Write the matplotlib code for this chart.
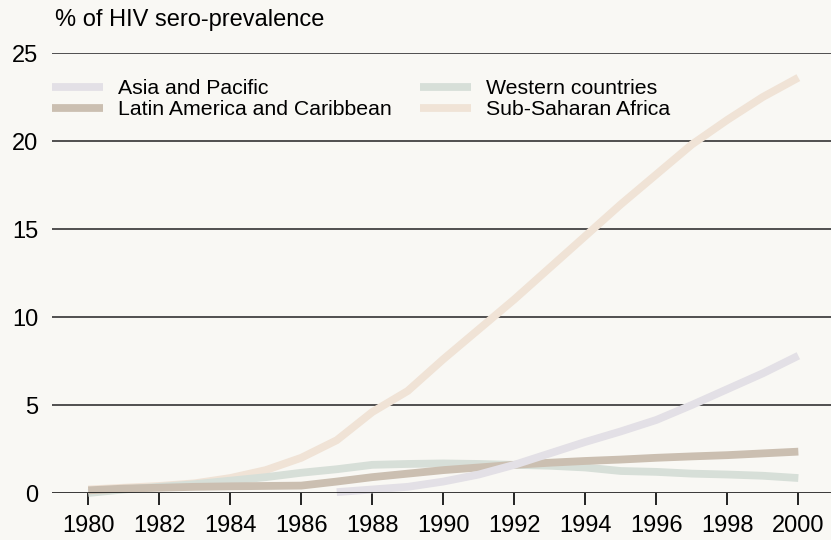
import matplotlib
matplotlib.use("Agg")
import matplotlib.pyplot as plt

plt.rcParams['font.family'] = ['Liberation Sans', 'DejaVu Sans']

years = list(range(1980, 2001))
asia_years = list(range(1987, 2001))
asia = [0.05, 0.2, 0.35, 0.65, 1.05, 1.6, 2.25, 2.9, 3.5, 4.15, 5.0, 5.9, 6.8, 7.8]
latin = [0.15, 0.25, 0.3, 0.35, 0.38, 0.4, 0.42, 0.65, 0.9, 1.1, 1.3,
         1.45, 1.6, 1.72, 1.82, 1.9, 2.0, 2.08, 2.15, 2.25, 2.35]
western = [0.0, 0.2, 0.35, 0.5, 0.7, 0.9, 1.15, 1.35, 1.6, 1.65, 1.68,
           1.65, 1.6, 1.55, 1.45, 1.25, 1.2, 1.1, 1.05, 0.98, 0.85]
ssa = [0.2, 0.3, 0.4, 0.55, 0.85, 1.3, 2.0, 3.0, 4.6, 5.8, 7.6,
       9.3, 11.0, 12.8, 14.6, 16.4, 18.1, 19.8, 21.2, 22.5, 23.6]
xticks = list(range(1980, 2001, 2))
yticks = [0, 5, 10, 15, 20, 25]

bg = '#f9f8f4'
fig = plt.figure(figsize=(8.31, 5.40), dpi=100, facecolor=bg)
ax = fig.add_axes([52 / 831, 1 - 493 / 540, 1 - 52 / 831, 440 / 540])
ax.set_facecolor(bg)

lw = 5.6
kw = dict(lw=lw, clip_on=False, solid_capstyle='butt', solid_joinstyle='miter')
l_ssa, = ax.plot(years, ssa, color='#f0e3d6', label='Sub-Saharan Africa', **kw)
l_wes, = ax.plot(years, western, color='#d7dfd8', label='Western countries', **kw)
l_lat, = ax.plot(years, latin, color='#cbbfb1', label='Latin America and Caribbean', **kw)
l_asi, = ax.plot(asia_years, asia, color='#e3e0e6', label='Asia and Pacific', **kw)

for v in yticks[1:]:
    ax.axhline(v, color='#333333', lw=1.2, zorder=0)
ax.axhline(0, color='black', lw=1.8, zorder=5)

ax.set_xlim(1978.98, 2000.92)
ax.set_ylim(0, 25)
ax.set_xticks(xticks)
ax.set_yticks(yticks)
ax.tick_params(axis='x', length=8.6, width=1.2, color='black', labelsize=17, pad=7.5)
ax.tick_params(axis='y', length=0, labelsize=17, pad=10)
for s in ax.spines.values():
    s.set_visible(False)

fig.text(55 / 831, 1 - 20 / 540, '% of HIV sero-prevalence', fontsize=17,
         va='center', ha='left')

ax.legend(handles=[l_asi, l_lat, l_wes, l_ssa], ncol=2, frameon=False,
          loc='upper left', bbox_to_anchor=(52 / 831, 1 - 79 / 540),
          bbox_transform=fig.transFigure, fontsize=15.3, handlelength=2.4,
          handletextpad=0.7, columnspacing=1.35, labelspacing=0.1,
          borderaxespad=0, borderpad=0, handleheight=0.6)

fig.savefig('out.png', dpi=100, facecolor=bg)
